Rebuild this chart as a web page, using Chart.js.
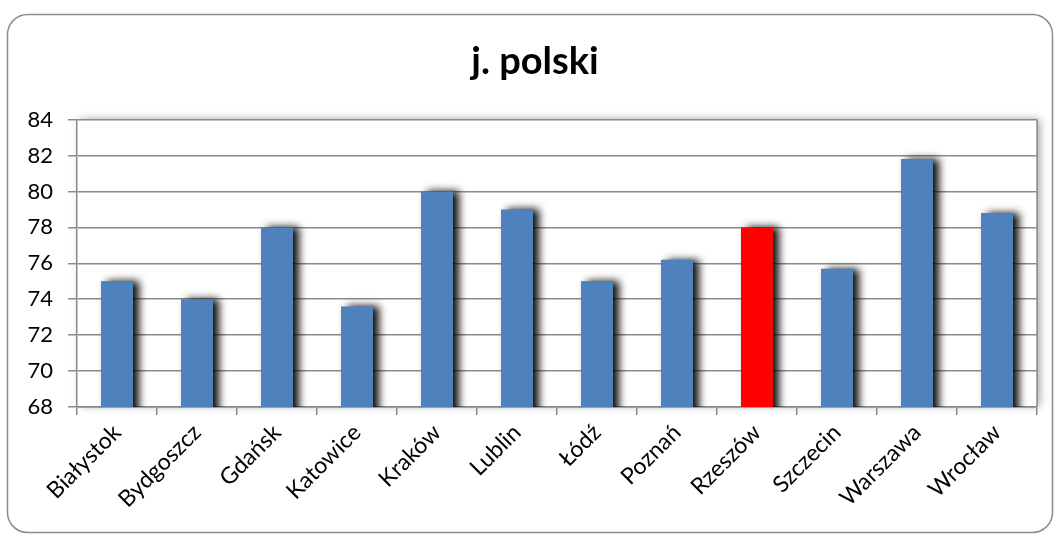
<!DOCTYPE html>
<html>
<head>
<meta charset="utf-8">
<script src="https://cdn.jsdelivr.net/npm/chart.js@4/dist/chart.umd.min.js"></script>
<style>
  html, body { margin: 0; padding: 0; background: #fff; }
  #wrap { width: 1054px; height: 534px; position: relative; }
</style>
</head>
<body>
<div id="wrap"><canvas id="chart"></canvas></div>
<script>
// dane wykresu
const cities = ['Białystok', 'Bydgoszcz', 'Gdańsk', 'Katowice', 'Kraków', 'Lublin',
  'Łódź', 'Poznań', 'Rzeszów', 'Szczecin', 'Warszawa', 'Wrocław'];
const scores = [75.0, 74.0, 78.0, 73.6, 80.0, 79.0, 75.0, 76.2, 78.0, 75.7, 81.8, 78.8];
const highlighted = 'Rzeszów';
const yTicks = [68, 70, 72, 74, 76, 78, 80, 82, 84];

const GRID = '#8a8a8a';
const FONT = 'Lato, "Open Sans", sans-serif';

// ramka wykresu i cień obszaru kreślenia
const framePlugin = {
  id: 'frame',
  afterLayout(chart) {
    // tytuł wyśrodkowany względem całej ramki
    const t = chart.titleBlock;
    if (t) {
      t.left = 16;
      t.right = 1054;
      t.width = t.right - t.left;
    }
  },
  beforeDraw(chart) {
    const { ctx, chartArea: a } = chart;
    ctx.save();
    ctx.fillStyle = '#fff';
    ctx.fillRect(0, 0, chart.width, chart.height);
    ctx.beginPath();
    ctx.roundRect(7.5, 14.5, 1045, 518, 20);
    ctx.strokeStyle = '#8c8c8c';
    ctx.lineWidth = 1.5;
    ctx.stroke();
    ctx.shadowColor = 'rgba(0,0,0,0.35)';
    ctx.shadowBlur = 8;
    ctx.shadowOffsetX = 3;
    ctx.shadowOffsetY = -1;
    ctx.fillStyle = '#fff';
    ctx.fillRect(a.left, a.top, a.right - a.left, a.bottom - a.top);
    ctx.restore();
  },
  afterDraw(chart) {
    const { ctx, chartArea: a } = chart;
    ctx.save();
    ctx.strokeStyle = GRID;
    ctx.lineWidth = 1.5;
    ctx.beginPath();
    ctx.moveTo(a.right, a.top);
    ctx.lineTo(a.right, a.bottom);
    ctx.stroke();
    ctx.restore();
  },
};

// cień słupków
const barShadow = {
  id: 'barShadow',
  beforeDatasetsDraw(chart) {
    const ctx = chart.ctx;
    ctx.save();
    ctx.shadowColor = 'rgba(0,0,0,0.95)';
    ctx.shadowBlur = 8;
    ctx.shadowOffsetX = 6;
    ctx.shadowOffsetY = 0;
  },
  afterDatasetsDraw(chart) {
    chart.ctx.restore();
  },
};

new Chart(document.getElementById('chart'), {
  type: 'bar',
  data: {
    labels: cities,
    datasets: [
      {
        data: scores,
        backgroundColor: cities.map((c) => (c === highlighted ? '#FF0000' : '#4F81BD')),
        barPercentage: 0.4,
        categoryPercentage: 1,
        borderWidth: 0,
      },
    ],
  },
  options: {
    responsive: true,
    maintainAspectRatio: false,
    animation: false,
    layout: { padding: { left: 0, right: 17, top: 0, bottom: 0 } },
    plugins: {
      legend: { display: false },
      tooltip: { enabled: false },
      title: {
        display: true,
        text: 'j. polski',
        color: '#000',
        font: { family: FONT, size: 38, weight: 'bold' },
        padding: { top: 39, bottom: 35 },
      },
    },
    scales: {
      x: {
        grid: {
          offset: true,
          drawOnChartArea: false,
          drawTicks: true,
          tickLength: 8,
          color: GRID,
          lineWidth: 1.5,
        },
        border: { color: GRID, width: 1.5 },
        ticks: {
          color: '#000',
          font: { family: FONT, size: 23 },
          minRotation: 45,
          maxRotation: 45,
          padding: 4,
        },
        afterFit(scale) {
          scale.height = 127;
        },
      },
      y: {
        min: 68,
        max: 84,
        afterBuildTicks(scale) {
          scale.ticks = yTicks.map((v) => ({ value: v }));
        },
        grid: {
          color: GRID,
          lineWidth: 1.5,
          tickLength: 9,
        },
        border: { color: GRID, width: 1.5 },
        ticks: {
          color: '#000',
          font: { family: FONT, size: 22 },
          padding: 15,
        },
        afterFit(scale) {
          scale.width = 77;
        },
      },
    },
  },
  plugins: [framePlugin, barShadow],
});
</script>
</body>
</html>
